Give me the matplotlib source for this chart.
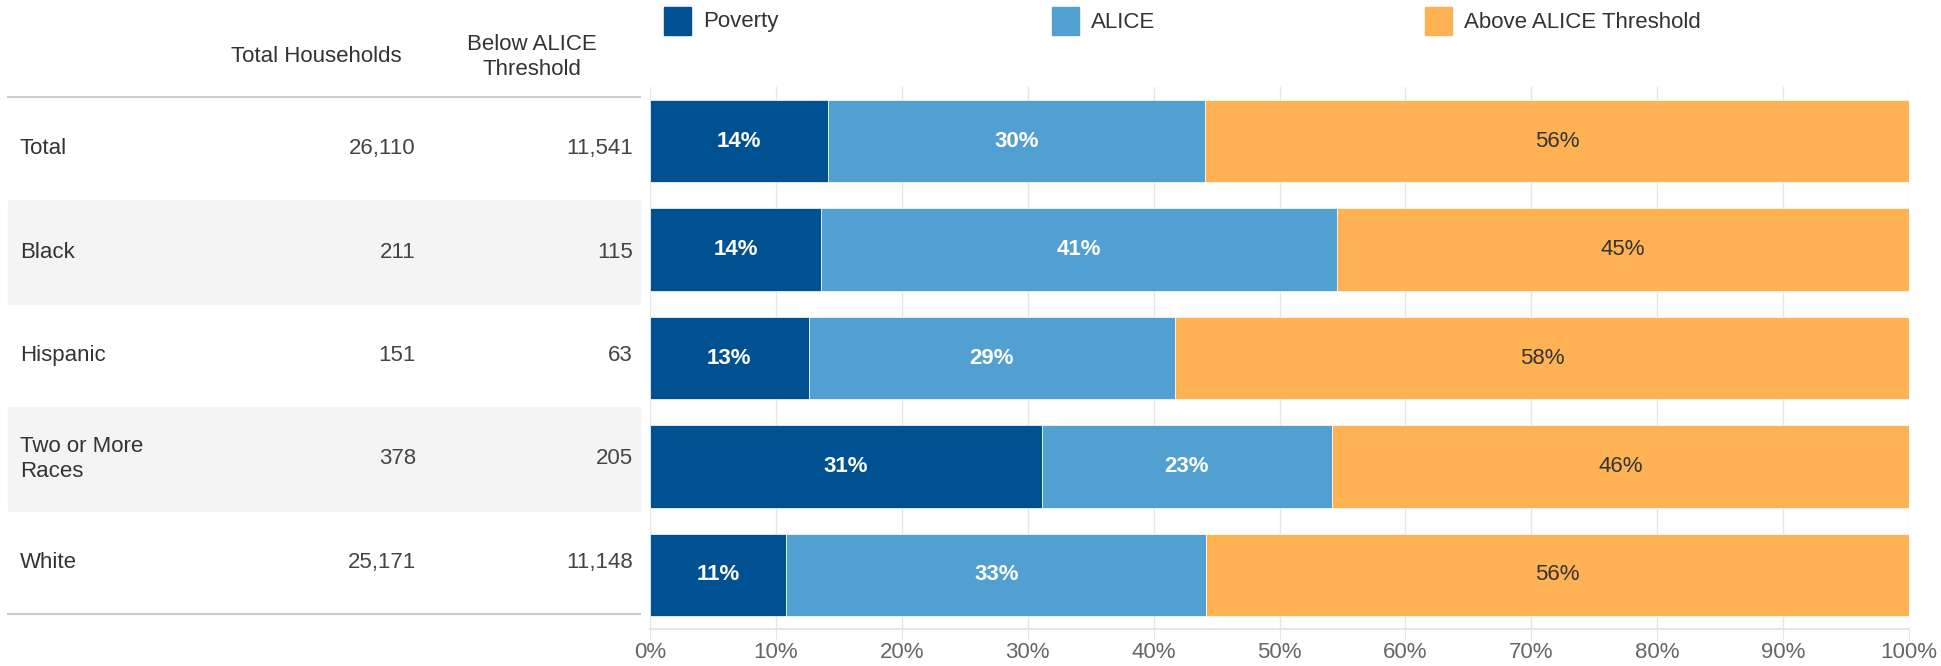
import numpy as np
import matplotlib
matplotlib.use("Agg")
import matplotlib.pyplot as plt
from matplotlib.patches import Rectangle
from matplotlib.ticker import FuncFormatter

plt.rcParams['font.family'] = ['Liberation Sans', 'DejaVu Sans']

# --- data ---
groups = ["Total", "Black", "Hispanic", "Two or More\nRaces", "White"]
total_households = ["26,110", "211", "151", "378", "25,171"]
below_alice = ["11,541", "115", "63", "205", "11,148"]

poverty = [14.1, 13.6, 12.6, 31.1, 10.8]
alice = [30.0, 41.0, 29.1, 23.1, 33.4]
above = [55.9, 45.4, 58.3, 45.8, 55.8]

series_names = ["Poverty", "ALICE", "Above ALICE Threshold"]
colors = ["#005191", "#529fd1", "#ffb253"]
label_colors = ["white", "white", "#333333"]
label_weights = ["bold", "bold", "normal"]

W, H = 1941, 666
fig = plt.figure(figsize=(W / 100, H / 100), dpi=100)

# --- bar chart ---
ax = fig.add_axes([650 / W, 1 - 629 / H, 1259 / W, 542 / H])
y = np.arange(len(groups))
left = np.zeros(len(groups))
for vals, col, tc, fw in zip([poverty, alice, above], colors, label_colors, label_weights):
    vals = np.array(vals)
    bars = ax.barh(y, vals, left=left, height=0.76, color=col,
                   edgecolor="white", linewidth=0.5, zorder=2)
    ax.bar_label(bars, labels=[f"{round(v)}%" for v in vals], label_type="center",
                 color=tc, fontsize=16, fontweight=fw)
    left += vals

ax.set_xlim(0, 100)
ax.set_ylim(len(groups) - 0.5, -0.5)
ax.set_xticks(range(0, 101, 10))
ax.xaxis.set_major_formatter(FuncFormatter(lambda v, p: f"{v:.0f}%"))
ax.grid(axis="x", color="#e6e6e6", linewidth=1)
ax.set_axisbelow(True)
for s in ["top", "right", "left"]:
    ax.spines[s].set_visible(False)
ax.spines["bottom"].set_color("#e0e0e0")
ax.spines["bottom"].set_linewidth(1.2)
ax.tick_params(axis="y", left=False, labelleft=False)
ax.tick_params(axis="x", length=8, color="#e6e6e6", labelsize=16,
               labelcolor="#666666", pad=1)

# --- legend ---
leg_x = [664, 1052, 1425]
for name, col, lx in zip(series_names, colors, leg_x):
    fig.patches.append(Rectangle((lx / W, 1 - 35 / H), 27 / W, 28 / H,
                                 transform=fig.transFigure, color=col))
    fig.text((lx + 39) / W, 1 - 22 / H, name, fontsize=16, color="#333333",
             ha="left", va="center")

# --- table on the left ---
tax = fig.add_axes([0, 1 - 614 / H, 650 / W, 517 / H])
tax.set_xlim(0, 650)
tax.set_ylim(len(groups) - 0.5, -0.5)
tax.axis("off")
for i in range(len(groups)):
    if i % 2 == 1:
        tax.add_patch(Rectangle((8, i - 0.5), 632, 1, color="#f4f4f4", zorder=0))
    tax.text(20, i, groups[i], fontsize=16, color="#333333", ha="left", va="center",
             linespacing=1.25)
    tax.text(416, i, total_households[i], fontsize=16, color="#444444", ha="right", va="center")
    tax.text(633, i, below_alice[i], fontsize=16, color="#444444", ha="right", va="center")
for yy in [-0.5, len(groups) - 0.5]:
    tax.plot([8, 640], [yy, yy], color="#cccccc", linewidth=1.5, clip_on=False)

fig.text(316 / W, 1 - 57 / H, "Total Households", fontsize=16, color="#333333",
         ha="center", va="center")
fig.text(532 / W, 1 - 57 / H, "Below ALICE\nThreshold", fontsize=16, color="#333333",
         ha="center", va="center", linespacing=1.25)

fig.savefig("out.png", dpi=100)
